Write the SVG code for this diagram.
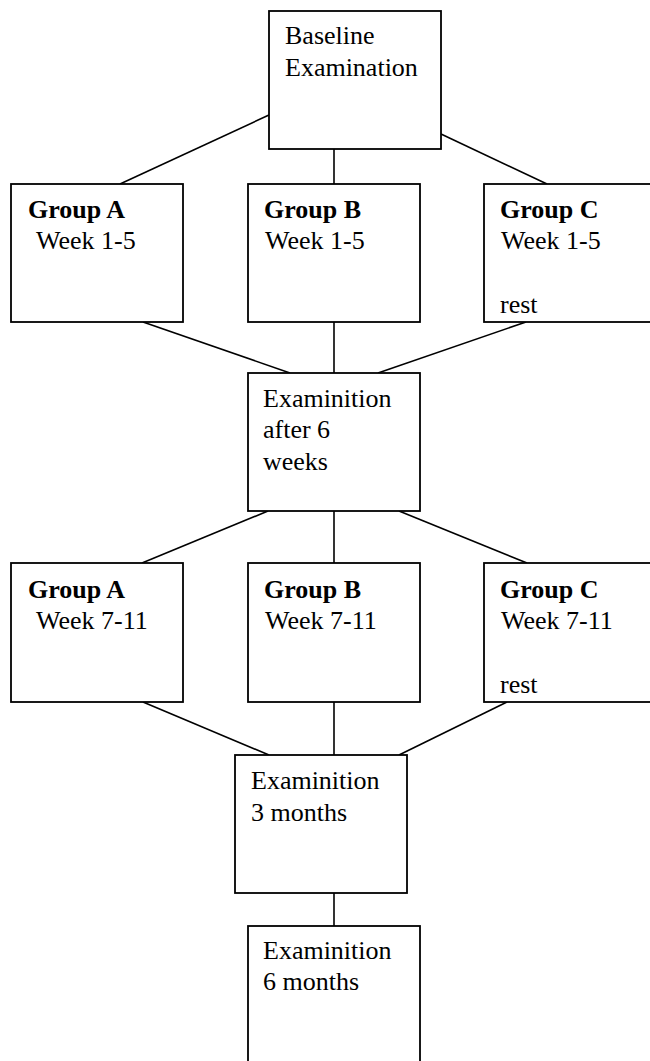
<svg xmlns="http://www.w3.org/2000/svg" width="650" height="1061" viewBox="0 0 650 1061">
<style>
.box{fill:#fff;stroke:#000;stroke-width:1.8}
.t{font-family:"Liberation Serif","Times New Roman",serif;font-size:26px;fill:#000}
.b{font-weight:bold}
.c line{stroke:#000;stroke-width:1.6}
</style>
<rect width="650" height="1061" fill="#fff"/>
<g class="c" id="connectors">
<line x1="269" y1="115" x2="120" y2="184"/>
<line x1="334" y1="149" x2="334" y2="184"/>
<line x1="441" y1="134" x2="547" y2="184"/>
<line x1="143" y1="322" x2="290" y2="373"/>
<line x1="334" y1="322" x2="334" y2="373"/>
<line x1="526" y1="322" x2="378" y2="373"/>
<line x1="268" y1="511" x2="142" y2="563"/>
<line x1="334" y1="511" x2="334" y2="563"/>
<line x1="399" y1="511" x2="527" y2="563"/>
<line x1="143" y1="702" x2="269" y2="755"/>
<line x1="334" y1="702" x2="334" y2="755"/>
<line x1="507" y1="702" x2="399" y2="755"/>
<line x1="334" y1="893" x2="334" y2="926"/>
</g>
<g id="baseline">
<rect class="box" x="269" y="11" width="172" height="138"/>
<text class="t" x="285" y="44">Baseline</text>
<text class="t" x="285" y="76">Examination</text>
</g>
<g id="groupA1">
<rect class="box" x="11" y="184" width="172" height="138"/>
<text class="t b" x="28" y="218">Group A</text>
<text class="t" x="36" y="249">Week 1-5</text>
</g>
<g id="groupB1">
<rect class="box" x="248" y="184" width="172" height="138"/>
<text class="t b" x="264" y="218">Group B</text>
<text class="t" x="265" y="249">Week 1-5</text>
</g>
<g id="groupC1">
<rect class="box" x="484" y="184" width="172" height="138"/>
<text class="t b" x="500" y="218">Group C</text>
<text class="t" x="501" y="249">Week 1-5</text>
<text class="t" x="500" y="313">rest</text>
</g>
<g id="exam6w">
<rect class="box" x="248" y="373" width="172" height="138"/>
<text class="t" x="263" y="407">Examinition</text>
<text class="t" x="263" y="438">after 6</text>
<text class="t" x="263" y="470">weeks</text>
</g>
<g id="groupA2">
<rect class="box" x="11" y="563" width="172" height="139"/>
<text class="t b" x="28" y="598">Group A</text>
<text class="t" x="36" y="629">Week 7-11</text>
</g>
<g id="groupB2">
<rect class="box" x="248" y="563" width="172" height="139"/>
<text class="t b" x="264" y="598">Group B</text>
<text class="t" x="265" y="629">Week 7-11</text>
</g>
<g id="groupC2">
<rect class="box" x="484" y="563" width="172" height="139"/>
<text class="t b" x="500" y="598">Group C</text>
<text class="t" x="501" y="629">Week 7-11</text>
<text class="t" x="500" y="693">rest</text>
</g>
<g id="exam3m">
<rect class="box" x="235" y="755" width="172" height="138"/>
<text class="t" x="251" y="789">Examinition</text>
<text class="t" x="251" y="821">3 months</text>
</g>
<g id="exam6m">
<rect class="box" x="248" y="926" width="172" height="138"/>
<text class="t" x="263" y="959">Examinition</text>
<text class="t" x="263" y="990">6 months</text>
</g>
</svg>
